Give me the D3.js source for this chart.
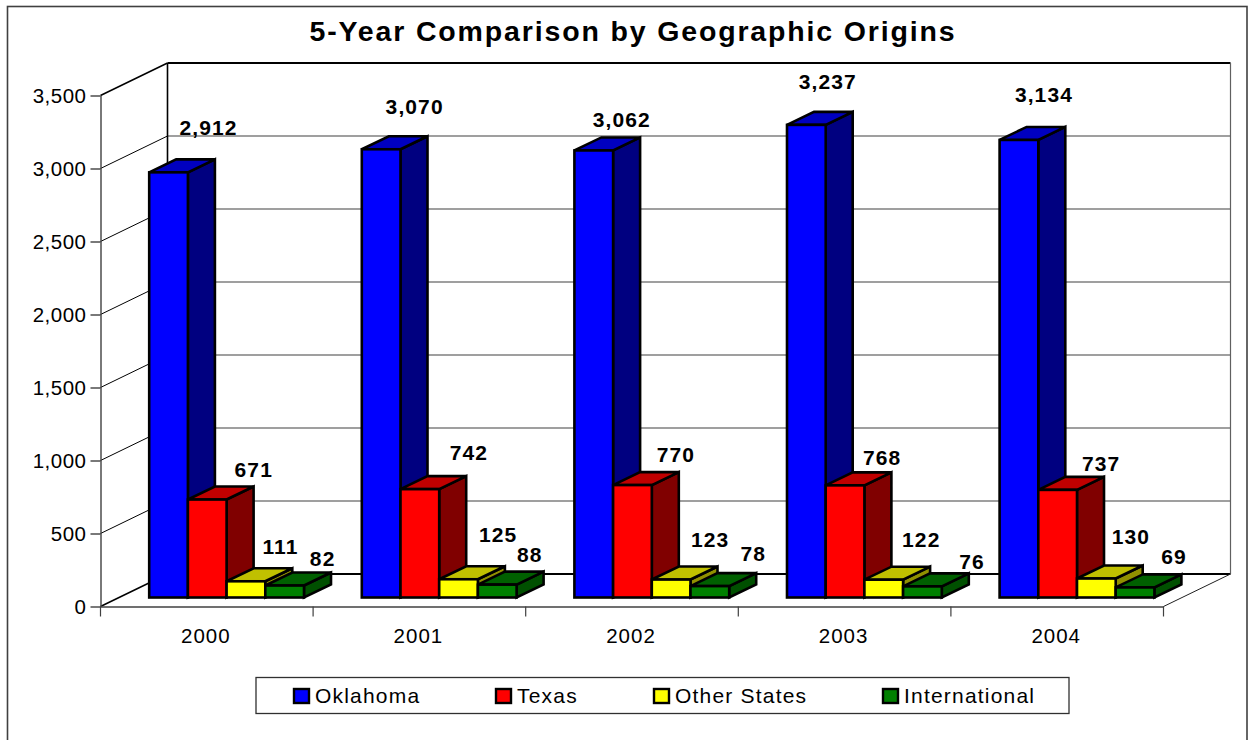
<!DOCTYPE html>
<html><head><meta charset="utf-8">
<script src="https://cdn.jsdelivr.net/npm/d3@7/dist/d3.min.js"></script>
<style>html,body{margin:0;padding:0;background:#fff;overflow:hidden}svg{display:block}
text{font-family:"Liberation Sans",Arial,sans-serif;fill:#000}</style></head><body>
<script>
const titleText = "5-Year Comparison by Geographic Origins";
const years = ["2000","2001","2002","2003","2004"];
const seriesNames = ["Oklahoma","Texas","Other States","International"];
const oklahoma = [2912,3070,3062,3237,3134];
const texas = [671,742,770,768,737];
const otherStates = [111,125,123,122,130];
const international = [82,88,78,76,69];
const yTicks = [0,500,1000,1500,2000,2500,3000,3500];
const faceColors = ["#0000ff","#ff0000","#ffff00","#008000"];
const topColors = ["#0000c0","#c00000","#c0c000","#006000"];
const sideColors = ["#000080","#800000","#909000","#005000"];
const seriesValues = [oklahoma,texas,otherStates,international];
// label nudges (dx from bar front centre, dy from bar back-top), per series then year
const labelDx = [[40,33.5,28,21.5,25],[46.5,49,43.5,37,43.5],[34.5,39.5,39,37.5,34.5],[38,32.5,43.5,49.5,39]];
const labelDy = [[-32,-30,-18,-30,-32],[-17,-24,-18,-15,-13],[-22,-32,-27,-27,-29],[-14,-17,-20,-12,-18]];
const legendSwatchX = [293,495,653,882];

const W=1252,H=740;
const svg=d3.select("body").append("svg").attr("width",W).attr("height",H);
const x0=100.5,x1=1163.5,yBase=606.5,yTop=95.5,wallDx=67,wallDy=-32.5;
const y=d3.scaleLinear().domain([0,3500]).range([yBase,yTop]);
const x=d3.scaleBand().domain(years).range([x0,x1]);
const barUnit=38.7, barOffset=48.7, frontLift=9, barDx=27, barDy=-13;
const hScale=v=>yBase-y(v);

svg.append("rect").attr("x",7.5).attr("y",6.5).attr("width",1239.5).attr("height",760)
  .attr("fill","#fff").attr("stroke","#404040").attr("stroke-width",1.6);

svg.append("text").attr("x",633).attr("y",41).attr("text-anchor","middle")
  .style("font-weight","700").style("font-size","28.5px").style("letter-spacing","1.85px").text(titleText);

const wall=svg.append("g").attr("fill","none");
yTicks.forEach(t=>{
  const yy=y(t);
  const isTop=t===3500,isZero=t===0;
  wall.append("line").attr("x1",x0).attr("y1",yy).attr("x2",x0+wallDx).attr("y2",yy+wallDy)
    .attr("stroke","#000").attr("stroke-width",isTop||isZero?1.5:1);
  wall.append("line").attr("x1",x0+wallDx).attr("y1",yy+wallDy).attr("x2",x1+wallDx).attr("y2",yy+wallDy)
    .attr("stroke",isTop||isZero?"#000":"#404040").attr("stroke-width",isTop||isZero?1.8:1.2);
});
wall.append("line").attr("x1",x0+wallDx).attr("y1",y(0)+wallDy).attr("x2",x0+wallDx).attr("y2",y(3500)+wallDy).attr("stroke","#000").attr("stroke-width",1.6);
wall.append("line").attr("x1",x1+wallDx).attr("y1",y(0)+wallDy).attr("x2",x1+wallDx).attr("y2",y(3500)+wallDy).attr("stroke","#606060").attr("stroke-width",1.2);
wall.append("line").attr("x1",x1).attr("y1",yBase).attr("x2",x1+wallDx).attr("y2",yBase+wallDy).attr("stroke","#202020").attr("stroke-width",1);

const axL=svg.append("g").attr("transform",`translate(${x0},0)`)
  .call(d3.axisLeft(y).tickValues(yTicks).tickFormat(d3.format(",")).tickSize(10).tickSizeOuter(0));
axL.selectAll("text").style("font-size","20.5px").style("letter-spacing","0.5px").attr("x",-14);
axL.selectAll("line,path").attr("stroke","#404040").attr("stroke-width",1.4);

const axB=svg.append("g").attr("transform",`translate(0,${yBase})`)
  .call(d3.axisBottom(x).tickSize(0).tickSizeOuter(0));
axB.selectAll("text").style("font-size","20.5px").style("letter-spacing","1px").attr("y",22).attr("dy","0.71em").attr("dx",-1);
axB.selectAll("path").attr("stroke","#404040").attr("stroke-width",1.4);
axB.selectAll("line.boundary").data(d3.range(years.length+1)).enter().append("line").attr("class","boundary")
  .attr("x1",i=>x0+i*x.step()).attr("x2",i=>x0+i*x.step()).attr("y1",0).attr("y2",10)
  .attr("stroke","#404040").attr("stroke-width",1.2);

const barG=svg.append("g").attr("stroke","#000").attr("stroke-width",2.6).attr("stroke-linejoin","miter");
const pts=a=>a.map(p=>p.join(",")).join(" ");
years.forEach((yr,j)=>{
  seriesNames.forEach((s,i)=>{
    const v=seriesValues[i][j];
    const left=x(yr)+barOffset+barUnit*i, right=left+barUnit;
    const bottom=yBase-frontLift, top=bottom-hScale(v);
    barG.append("polygon").attr("fill",sideColors[i]).attr("points",pts([[right,top],[right+barDx,top+barDy],[right+barDx,bottom+barDy],[right,bottom]]));
    barG.append("polygon").attr("fill",topColors[i]).attr("points",pts([[left,top],[left+barDx,top+barDy],[right+barDx,top+barDy],[right,top]]));
    barG.append("rect").attr("fill",faceColors[i]).attr("x",left).attr("y",top).attr("width",barUnit).attr("height",bottom-top);
  });
});
years.forEach((yr,j)=>{
  seriesNames.forEach((s,i)=>{
    const v=seriesValues[i][j];
    const cx=x(yr)+barOffset+barUnit*(i+.5);
    const backTop=yBase-frontLift-hScale(v)+barDy;
    svg.append("text").attr("text-anchor","middle").attr("x",cx+labelDx[i][j]).attr("y",backTop+labelDy[i][j]+7.5)
      .style("font-weight","700").style("font-size","21px").style("letter-spacing","1.1px").text(d3.format(",")(v));
  });
});

const lg=svg.append("g");
lg.append("rect").attr("x",256).attr("y",677.5).attr("width",813).attr("height",36).attr("fill","#fff").attr("stroke","#303030").attr("stroke-width",1.3);
seriesNames.forEach((s,i)=>{
  lg.append("rect").attr("x",legendSwatchX[i]+1).attr("y",689).attr("width",15).attr("height",14)
    .attr("fill",faceColors[i]).attr("stroke","#000").attr("stroke-width",2.4);
  lg.append("text").attr("x",legendSwatchX[i]+22).attr("y",703).style("font-size","21px").style("letter-spacing","1.2px").text(s);
});
</script></body></html>
